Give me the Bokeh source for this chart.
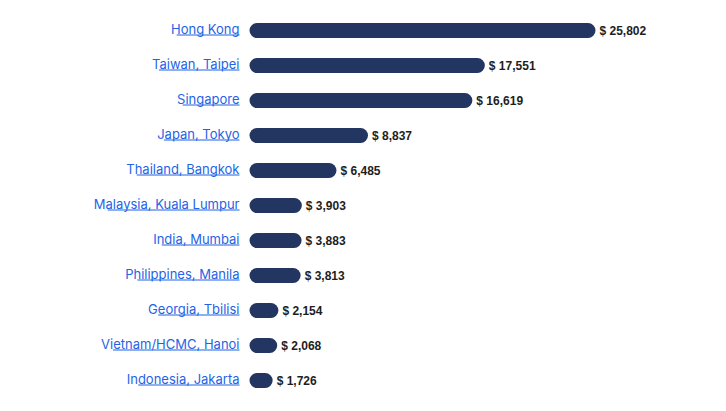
import glob, os, struct
from bokeh.plotting import figure
from bokeh.models import Range1d, ColumnDataSource
from bokeh.core.properties import value
from bokeh.embed import file_html
from bokeh.resources import INLINE

# ---- data ----
cities = ["Hong Kong", "Taiwan, Taipei", "Singapore", "Japan, Tokyo",
          "Thailand, Bangkok", "Malaysia, Kuala Lumpur", "India, Mumbai",
          "Philippines, Manila", "Georgia, Tbilisi", "Vietnam/HCMC, Hanoi",
          "Indonesia, Jakarta"]
costs = [25802, 17551, 16619, 8837, 6485, 3903, 3883, 3813, 2154, 2068, 1726]
cost_labels = ["$ {:,}".format(v) for v in costs]

# ---- layout constants ----
W, H = 710, 395
ZERO_PX = 249          # canvas px where 0 sits
BAR_PX = 346           # px for the largest value
ROW_PX = 35
TOP_PX = 30
UPP = max(costs) / BAR_PX   # data units per px (x)
LABEL_FONT = "Inter"
LABEL_SIZE = 13
LABEL_GAP = 10
LINK = "#1f63e6"
BAR = "#233561"


def _font_path(name):
    pats = ["/usr/share/fonts/**/%s-Regular.ttf" % name,
            "/usr/share/fonts/**/%s*.ttf" % name,
            "/usr/share/fonts/**/%s*.otf" % name,
            "/usr/local/share/fonts/**/%s*.ttf" % name,
            os.path.expanduser("~/.fonts/**/%s*.ttf" % name)]
    for pat in pats:
        hits = sorted(glob.glob(pat, recursive=True))
        hits = [h for h in hits if "Italic" not in h and "Bold" not in h and "Condensed" not in h
                and "Light" not in h and "Medium" not in h and "Thin" not in h and "Black" not in h
                and "Display" not in h]
        if hits:
            return hits[0]
    return None


def _ttf_widths(path):
    data = open(path, "rb").read()
    num = struct.unpack(">H", data[4:6])[0]
    tables = {}
    for i in range(num):
        rec = data[12 + 16 * i: 28 + 16 * i]
        tag = rec[:4].decode("latin1")
        off = struct.unpack(">I", rec[8:12])[0]
        tables[tag] = off
    upem = struct.unpack(">H", data[tables["head"] + 18: tables["head"] + 20])[0]
    nhm = struct.unpack(">H", data[tables["hhea"] + 34: tables["hhea"] + 36])[0]
    hmtx = tables["hmtx"]
    cmap = tables["cmap"]
    nsub = struct.unpack(">H", data[cmap + 2: cmap + 4])[0]
    sub = None
    for i in range(nsub):
        pid, eid, off = struct.unpack(">HHI", data[cmap + 4 + 8 * i: cmap + 12 + 8 * i])
        fmt = struct.unpack(">H", data[cmap + off: cmap + off + 2])[0]
        if fmt == 4 and (pid, eid) in ((3, 1), (0, 3), (0, 4), (0, 1), (0, 0)):
            sub = cmap + off
            break
    seg = struct.unpack(">H", data[sub + 6: sub + 8])[0] // 2
    ends_o = sub + 14
    starts_o = ends_o + 2 * seg + 2
    delta_o = starts_o + 2 * seg
    ro_o = delta_o + 2 * seg

    def u16(o):
        return struct.unpack(">H", data[o:o + 2])[0]

    def gid(c):
        for i in range(seg):
            e = u16(ends_o + 2 * i)
            if e >= c:
                s = u16(starts_o + 2 * i)
                if s > c:
                    return 0
                d = u16(delta_o + 2 * i)
                ro = u16(ro_o + 2 * i)
                if ro == 0:
                    return (c + d) & 0xFFFF
                g = u16(ro_o + 2 * i + ro + 2 * (c - s))
                return (g + d) & 0xFFFF if g else 0
        return 0

    def adv(g):
        if g >= nhm:
            g = nhm - 1
        return u16(hmtx + 4 * g)

    return lambda s, size: sum(adv(gid(ord(ch))) for ch in s) * size / upem


try:
    _measure = _ttf_widths(_font_path(LABEL_FONT))
except Exception:
    _measure = lambda s, size: len(s) * size * 0.52

label_w = [_measure(c, LABEL_SIZE) for c in cities]

idx = list(range(len(cities)))
src = ColumnDataSource(dict(
    y=idx, city=cities, cost=costs, lab=cost_labels,
    ux0=[-(LABEL_GAP + w) * UPP for w in label_w],
    ux1=[-LABEL_GAP * UPP for _ in cities],
    uy=[i + 4.5 / ROW_PX for i in idx],
))

x_start = -ZERO_PX * UPP
p = figure(width=W, height=H, output_backend="svg", toolbar_location=None,
           x_range=Range1d(x_start, x_start + W * UPP),
           y_range=Range1d((H - TOP_PX) / ROW_PX, -TOP_PX / ROW_PX),
           min_border=0, outline_line_color=None)
p.axis.visible = False
p.grid.visible = False
p.background_fill_color = "white"
p.border_fill_color = "white"

p.hbar(y="y", left=0, right="cost", height=15.0 / ROW_PX, source=src,
       fill_color=BAR, line_color=None, border_radius=8)

p.text(x=0, y="y", text="city", source=src, x_offset=-LABEL_GAP, y_offset=-2,
       text_align="right", text_baseline="middle",
       text_font=value(LABEL_FONT), text_font_size="%dpx" % LABEL_SIZE,
       text_color=LINK)
p.segment(x0="ux0", x1="ux1", y0="uy", y1="uy", source=src,
          line_color=LINK, line_width=1)

p.text(x="cost", y="y", text="lab", source=src, x_offset=4,
       text_align="left", text_baseline="middle",
       text_font=value("Liberation Sans"), text_font_style="bold",
       text_font_size="12px", text_color="#1e1e1e")

open("out.html", "w").write(file_html(p, INLINE))
